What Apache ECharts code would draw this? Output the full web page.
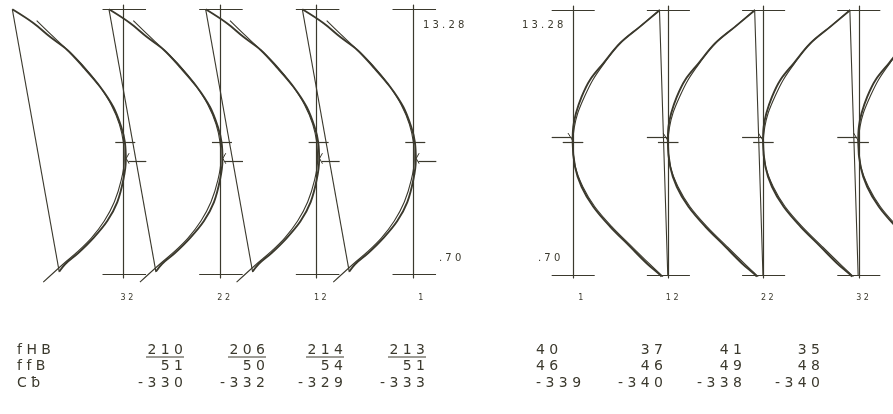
<!DOCTYPE html>
<html>
<head>
<meta charset="utf-8">
<style>
  html, body { margin: 0; padding: 0; background: #fff; }
  #chart { width: 893px; height: 414px; }
</style>
</head>
<body>
<div id="chart"></div>
<script src="https://cdn.jsdelivr.net/npm/echarts@6/dist/echarts.min.js"></script>
<script>
// panel names, left group runs 32 -> 1, right group 1 -> 32
const leftPanels = ['32', '22', '12', '1']
const rightPanels = ['1', '12', '22', '32']

// depth range of every profile
const depthTop = 13.28
const depthBottom = 0.70
const depthLabels = ['13.28', '.70']

// left group: offset from the panel axis (1 unit = 1/10 of panel spacing) and depth
const leftMeasOffset = [-11.48, -9.31, -7.55, -5.79, -4.14, -2.38, -1.03, -0.21, 0.16, 0.26, 0.00, -0.62, -1.66, -3.10, -4.66, -6.00, -6.62]
const leftMeasDepth = [13.28, 12.63, 11.96, 11.35, 10.54, 9.59, 8.64, 7.69, 6.98, 6.13, 5.18, 4.13, 3.23, 2.42, 1.71, 1.19, 0.83]
const leftFitOffset = [-8.96, -7.55, -5.85, -4.14, -2.48, -1.24, -0.41, 0.00, 0.10, -0.21, -0.93, -1.97, -3.31, -4.76, -6.21, -8.28]
const leftFitDepth = [12.74, 12.11, 11.38, 10.59, 9.64, 8.74, 7.83, 6.98, 6.13, 5.18, 4.13, 3.23, 2.42, 1.76, 1.19, 0.33]
const leftChordOffset = [-11.48, -6.62]
const leftChordDepth = [13.28, 0.80]
const leftMarkDepth = [6.99, 6.09]
const leftHookOffset = [0.6, 0.3, 0.6]
const leftHookDepth = [6.45, 6.2, 5.95]

// right group
const rightMeasOffset = [9.09, 7.01, 4.91, 3.15, 1.75, 0.87, 0.28, 0.00, -0.07, 0.18, 0.87, 2.10, 3.86, 5.96, 7.70, 8.93, 9.28]
const rightMeasDepth = [13.28, 12.49, 11.70, 10.75, 9.96, 9.16, 8.38, 7.74, 7.03, 5.84, 4.89, 3.94, 3.00, 2.05, 1.26, 0.78, 0.62]
const rightFitOffset = [9.09, 6.93, 4.83, 3.26, 2.05, 1.16, 0.47, 0.11, -0.05, 0.21, 1.00, 2.26, 4.04, 6.15, 7.93, 9.42]
const rightFitDepth = [13.28, 12.47, 11.67, 10.76, 9.96, 9.15, 8.39, 7.72, 7.01, 5.84, 4.89, 3.94, 3.00, 2.05, 1.26, 0.62]
const rightChordOffset = [9.05, 9.92]
const rightChordDepth = [13.28, 0.70]
const rightMarkDepth = [7.22, 6.98]
const rightHookOffset = [-0.56, 0.0]
const rightHookDepth = [7.44, 7.03]

// table under the profiles
const rowNames = ['fHB', 'ffB', 'Cƀ']
const leftFHB = [210, 206, 214, 213]
const leftFFB = [51, 50, 54, 51]
const leftCb = [-330, -332, -329, -333]
const rightFHB = [40, 37, 41, 35]
const rightFFB = [46, 46, 49, 48]
const rightCb = [-339, -340, -338, -340]

const ink = '#3b392d'
const font = '"DejaVu Sans", sans-serif'
const pageWidth = 893

function zip(xs, ys) {
  return xs.map((x, i) => [x, ys[i]])
}
// plotter style spacing between characters
function spaced(v) {
  return String(v).split('').join(' ')
}

const groups = [
  {
    panels: leftPanels, axis0: 123.3, pitch: 96.67, xMin: -12, xMax: 3,
    topPx: 9.3, bottomPx: 274.3, gridTop: 5, gridBottom: 278,
    meas: zip(leftMeasOffset, leftMeasDepth),
    fit: zip(leftFitOffset, leftFitDepth),
    chord: zip(leftChordOffset, leftChordDepth),
    hook: zip(leftHookOffset, leftHookDepth),
    marks: [[leftMarkDepth[0], -0.83, 1.24], [leftMarkDepth[1], 0.52, 2.38]],
    bar: [-2.15, 2.35]
  },
  {
    panels: rightPanels, axis0: 573.3, pitch: 95.2, xMin: -3, xMax: 10.5,
    topPx: 10, bottomPx: 275, gridTop: 6, gridBottom: 278,
    meas: zip(rightMeasOffset, rightMeasDepth),
    fit: zip(rightFitOffset, rightFitDepth),
    chord: zip(rightChordOffset, rightChordDepth),
    hook: zip(rightHookOffset, rightHookDepth),
    marks: [[rightMarkDepth[0], -2.27, -0.17], [rightMarkDepth[1], -1.11, 1.05]],
    bar: [-2.27, 2.25]
  }
]

const grid = [], xAxis = [], yAxis = [], series = [], graphic = []

function text(str, x, y, size, align) {
  return {
    type: 'text', x, y, silent: true,
    style: {
      text: str, fill: ink, font: `${size}px ${font}`,
      textAlign: align, align, textVerticalAlign: 'middle', verticalAlign: 'middle'
    }
  }
}

groups.forEach(g => {
  const unit = g.pitch / 10
  const pxPerDepth = (g.bottomPx - g.topPx) / (depthTop - depthBottom)
  const yMax = depthTop + (g.topPx - g.gridTop) / pxPerDepth
  const yMin = depthBottom - (g.gridBottom - g.bottomPx) / pxPerDepth
  g.panels.forEach((name, i) => {
    const k = grid.length
    const axisPx = g.axis0 + i * g.pitch
    // keep every grid inside the page, the last right panel runs off the edge
    const xMax = Math.min(g.xMax, Math.floor((pageWidth - 1 - axisPx) / unit * 10) / 10)
    const left = axisPx + g.xMin * unit
    grid.push({
      left, width: (xMax - g.xMin) * unit, top: g.gridTop, height: g.gridBottom - g.gridTop,
      outerBoundsMode: 'none'
    })
    xAxis.push({ gridIndex: k, type: 'value', min: g.xMin, max: xMax, show: false, axisLine: { onZero: false } })
    yAxis.push({
      gridIndex: k, type: 'value', min: yMin, max: yMax,
      axisLine: { show: true, onZero: true, lineStyle: { color: ink, width: 1.2 } },
      axisTick: { show: false }, axisLabel: { show: false }, splitLine: { show: false }
    })
    const base = { type: 'line', xAxisIndex: k, yAxisIndex: k, showSymbol: false, symbol: 'none', clip: false, silent: true, animation: false }
    const seg = (y, a, b) => [{ coord: [a, y] }, { coord: [b, y] }]
    series.push(Object.assign({}, base, {
      name: 'measured ' + name,
      data: g.meas, smooth: 0.35,
      lineStyle: { color: ink, width: 1.9 },
      markLine: {
        silent: true, symbol: ['none', 'none'], animation: false, label: { show: false },
        lineStyle: { color: ink, width: 1.2, type: 'solid' },
        emphasis: { disabled: true },
        data: [
          seg(depthTop, g.bar[0], g.bar[1]),
          seg(depthBottom, g.bar[0], g.bar[1]),
          ...g.marks.map(m => seg(m[0], m[1], m[2]))
        ]
      }
    }))
    series.push(Object.assign({}, base, { name: 'fit ' + name, data: g.fit, smooth: 0.35, lineStyle: { color: ink, width: 1.1 } }))
    series.push(Object.assign({}, base, { name: 'chord ' + name, data: g.chord, lineStyle: { color: ink, width: 1.1 } }))
    series.push(Object.assign({}, base, { name: 'hook ' + name, data: g.hook, lineStyle: { color: ink, width: 1 } }))

    // panel number below the axis
    graphic.push(text(spaced(name), axisPx + 10, 298, 8, 'right'))
  })
})

// depth labels
graphic.push(text(spaced(depthLabels[0]), 423, 25, 10, 'left'))
graphic.push(text(spaced(depthLabels[1]), 439, 258, 10, 'left'))
graphic.push(text(spaced(depthLabels[0]), 522, 25, 10, 'left'))
graphic.push(text(spaced(depthLabels[1]), 538, 258, 10, 'left'))

// table
const rowY = [350, 366, 383]
rowNames.forEach((n, r) => graphic.push(text(spaced(n), 17, rowY[r], 14, 'left')))

const leftColRight = [183, 265, 343, 425]
;[leftFHB, leftFFB, leftCb].forEach((row, r) => {
  row.forEach((v, c) => graphic.push(text(spaced(v), leftColRight[c], rowY[r], 14, 'right')))
})
// first row on the left is underlined
leftFHB.forEach((v, c) => {
  graphic.push({
    type: 'line', silent: true,
    shape: { x1: leftColRight[c] - 37, y1: rowY[0] + 7, x2: leftColRight[c] + 1, y2: rowY[0] + 7 },
    style: { stroke: ink, lineWidth: 1 }
  })
})

const rightCols = [[536, 'left'], [663, 'right'], [742, 'right'], [820, 'right']]
;[rightFHB, rightFFB, rightCb].forEach((row, r) => {
  row.forEach((v, c) => graphic.push(text(spaced(v), rightCols[c][0], rowY[r], 14, rightCols[c][1])))
})

const chart = echarts.init(document.getElementById('chart'))
chart.setOption({
  backgroundColor: '#ffffff',
  animation: false,
  grid, xAxis, yAxis, series, graphic
})
</script>
</body>
</html>
